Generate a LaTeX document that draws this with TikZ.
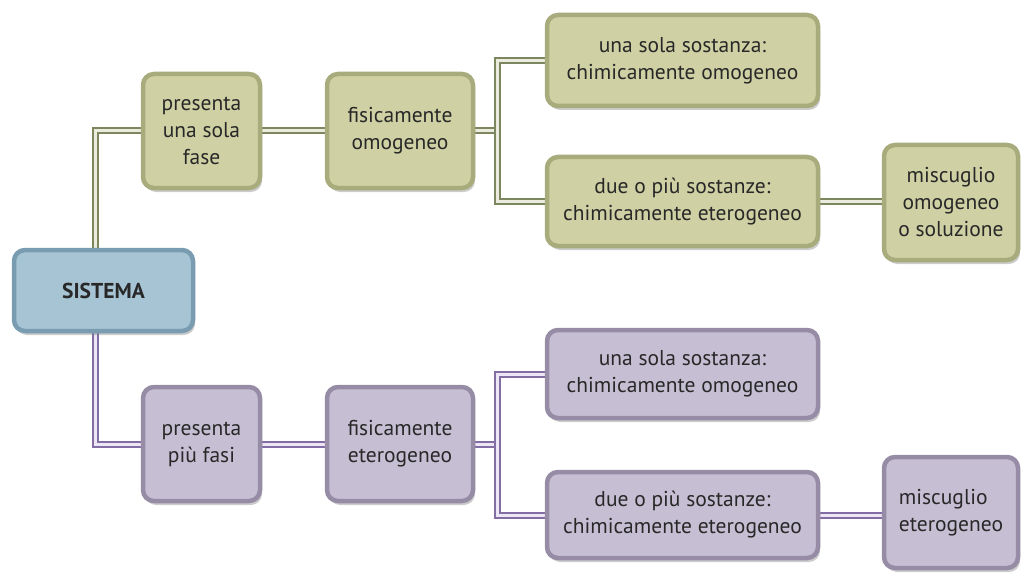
\documentclass[tikz,border=0pt]{standalone}
\usepackage{fontspec}
\setmainfont{PT Sans}
\usetikzlibrary{shadows,backgrounds}
\definecolor{txt}{RGB}{40,40,40}
\definecolor{ofill}{RGB}{207,209,164}
\definecolor{odraw}{RGB}{168,172,124}
\definecolor{oline}{RGB}{125,135,95}
\definecolor{olight}{RGB}{235,236,222}
\definecolor{pfill}{RGB}{198,191,212}
\definecolor{pdraw}{RGB}{150,140,166}
\definecolor{pline}{RGB}{130,110,165}
\definecolor{plight}{RGB}{236,230,245}
\definecolor{bfill}{RGB}{166,196,212}
\definecolor{bdraw}{RGB}{122,156,176}
\tikzset{
  boxbase/.style={rounded corners=11pt, line width=4.5pt, align=center, text=txt,
    inner sep=0pt, font=\fontsize{21.5}{27}\selectfont,
    drop shadow={opacity=0.4, shadow xshift=2pt, shadow yshift=-4pt}},
  obox/.style={boxbase, fill=ofill, draw=odraw},
  pbox/.style={boxbase, fill=pfill, draw=pdraw},
  bbox/.style={boxbase, fill=bfill, draw=bdraw, font=\fontsize{21.5}{27}\selectfont\bfseries},
  gcon/.style={line width=2pt, draw=oline, double=olight, double distance=3pt},
  pcon/.style={line width=2pt, draw=pline, double=plight, double distance=3pt},
}
\begin{document}
\begin{tikzpicture}[x=1pt,y=-1pt]
\useasboundingbox (0,0) rectangle (1023,575);
% nodes
\node[bbox, minimum width=179pt, minimum height=81pt] (sis) at (103.5,290.5) {SISTEMA};
\node[obox, minimum width=117pt, minimum height=114pt] (p1) at (201.5,131) {presenta\\una sola\\fase};
\node[obox, minimum width=146pt, minimum height=114pt] (f1) at (400,131) {fisicamente\\omogeneo};
\node[obox, minimum width=271pt, minimum height=91pt] (u1) at (682.5,60.5) {una sola sostanza:\\chimicamente omogeneo};
\node[obox, minimum width=271pt, minimum height=89pt] (d1) at (682.5,201.5) {due o più sostanze:\\chimicamente eterogeneo};
\node[obox, minimum width=134pt, minimum height=115pt] (m1) at (951,202.5) {miscuglio\\omogeneo\\o soluzione};
\node[pbox, minimum width=117pt, minimum height=114pt] (p2) at (201.5,444) {presenta\\più fasi};
\node[pbox, minimum width=146pt, minimum height=114pt] (f2) at (400,444) {fisicamente\\eterogeneo};
\node[pbox, minimum width=271pt, minimum height=88pt] (u2) at (682.5,374) {una sola sostanza:\\chimicamente omogeneo};
\node[pbox, minimum width=271pt, minimum height=86pt] (d2) at (682.5,515) {due o più sostanze:\\chimicamente eterogeneo};
\node[pbox, minimum width=134pt, minimum height=111pt, align=left] (m2) at (951,512.5) {miscuglio\\eterogeneo};
\coordinate (j1) at (497,131);
\coordinate (j2) at (497,444);
% connectors
\begin{scope}[on background layer]
\draw[gcon] ([xshift=-8pt]sis.north) |- (p1.west);
\draw[gcon] (p1.east) -- (f1.west);
\draw[gcon] (f1.east) -- (j1);
\draw[gcon] (u1.west) -| (j1) |- (d1.west);
\draw[gcon] (d1.east) -- (d1.east -| m1.west);
\draw[pcon] ([xshift=-8pt]sis.south) |- (p2.west);
\draw[pcon] (p2.east) -- (f2.west);
\draw[pcon] (f2.east) -- (j2);
\draw[pcon] (u2.west) -| (j2) |- (d2.west);
\draw[pcon] (d2.east) -- (d2.east -| m2.west);
\end{scope}
\end{tikzpicture}
\end{document}
